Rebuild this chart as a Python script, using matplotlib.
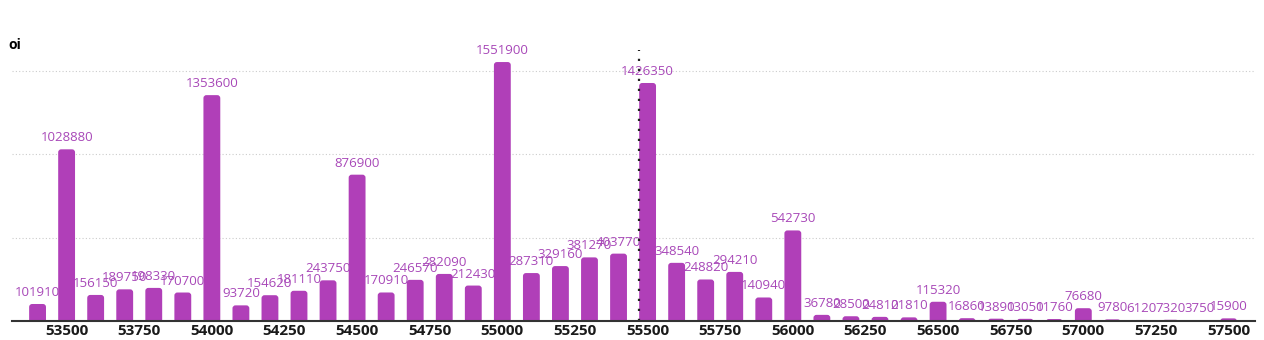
import matplotlib.pyplot as plt
from matplotlib.patches import FancyBboxPatch

strikes = [53400, 53500, 53600, 53700, 53800, 53900, 54000, 54100, 54200, 54300,
           54400, 54500, 54600, 54700, 54800, 54900, 55000, 55100, 55200, 55300,
           55400, 55500, 55600, 55700, 55800, 55900, 56000, 56100, 56200, 56300,
           56400, 56500, 56600, 56700, 56800, 56900, 57000, 57100, 57200, 57300,
           57400, 57500]
oi = [101910, 1028880, 156150, 189750, 198330, 170700, 1353600, 93720, 154620, 181110,
      243750, 876900, 170910, 246570, 282090, 212430, 1551900, 287310, 329160, 381270,
      403770, 1426350, 348540, 248820, 294210, 140940, 542730, 36780, 28500, 24810,
      21810, 115320, 16860, 13890, 13050, 11760, 76680, 9780, 6120, 7320,
      3750, 15900]
xticks = [53500, 53750, 54000, 54250, 54500, 54750, 55000, 55250, 55500, 55750,
          56000, 56250, 56500, 56750, 57000, 57250, 57500]
spot = 55470

bar_color = '#b03fb8'
label_color = '#a848b8'

plt.rcParams['font.family'] = ['Open Sans', 'DejaVu Sans']

fig = plt.figure(figsize=(12.64, 3.4), dpi=100)
ax = fig.add_axes([12 / 1264, 19 / 340, 1243 / 1264, 281 / 340])
ax.set_xlim(53312, 57591)
ax.set_ylim(0, 1684000)

bars = ax.bar(strikes, oi, width=58, color=bar_color, zorder=3)

# swap the plain rectangles for rounded ones
x_per_px = (57591 - 53312) / 1243
y_per_px = 1684000 / 281
aspect = y_per_px / x_per_px
r = 3 * x_per_px
for b in bars:
    b.set_visible(False)
    p = FancyBboxPatch((b.get_x(), -r * aspect), b.get_width(), b.get_height() + r * aspect,
                       boxstyle=f'round,pad=0,rounding_size={r}', mutation_aspect=aspect,
                       facecolor=bar_color, edgecolor='none', zorder=3)
    ax.add_patch(p)

for x, v in zip(strikes, oi):
    ax.annotate(str(v), (x, v), xytext=(0, 5), textcoords='offset pixels',
                ha='center', va='bottom', fontsize=9.5, color=label_color, zorder=4)

ax.axvline(spot, ymax=0.964, color='#222222', linestyle=(0, (1, 3.5)), linewidth=1.6, zorder=5)

ax.set_yticks([500000, 1000000, 1500000])
ax.yaxis.grid(True, linestyle=(0, (1, 2)), color='#cccccc', linewidth=0.8, zorder=0)
ax.tick_params(axis='y', length=0, labelleft=False)

ax.set_xticks(xticks)
ax.set_xticklabels([str(t) for t in xticks], fontsize=11, fontweight='bold', color='#1a1a1a')
ax.tick_params(axis='x', length=0, pad=2)

for s in ['top', 'right', 'left']:
    ax.spines[s].set_visible(False)
ax.spines['bottom'].set_color('#333333')
ax.spines['bottom'].set_linewidth(1.5)
ax.spines['bottom'].set_zorder(6)

fig.text(8 / 1264, 1 - 45 / 340, 'oi', fontsize=10, fontweight='bold', va='center', ha='left')

fig.savefig('out.png', dpi=100)
